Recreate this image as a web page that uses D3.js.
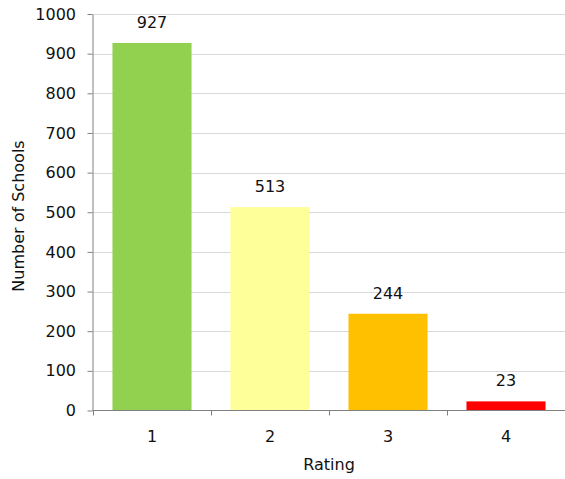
<!DOCTYPE html>
<html>
<head>
<meta charset="utf-8">
<script src="https://cdn.jsdelivr.net/npm/d3@7"></script>
<style>
  body { margin: 0; background: #fff; }
  svg text { font-family: "DejaVu Sans", "Liberation Sans", sans-serif; fill: #111; }
</style>
</head>
<body>
<div id="chart"></div>
<script>
// Schools per rating
var ratings = ['1', '2', '3', '4'];
var schoolCounts = [927, 513, 244, 23];
var barColors = ['#92d050', '#ffff99', '#ffc000', '#ff0000'];
var yTicks = [0, 100, 200, 300, 400, 500, 600, 700, 800, 900, 1000];

var width = 565, height = 479;
var plotLeft = 93, plotRight = 565, plotTop = 14, plotBottom = 410.5;

var svg = d3.select('#chart').append('svg')
    .attr('width', width)
    .attr('height', height);

var x = d3.scaleBand()
    .domain(ratings)
    .range([plotLeft, plotRight])
    .paddingInner(0.33)
    .paddingOuter(0.165);

var y = d3.scaleLinear()
    .domain([0, 1000])
    .range([plotBottom, plotTop]);

// gridlines
svg.append('g')
    .selectAll('line')
    .data(yTicks.filter(function(d) { return d > 0; }))
    .enter()
    .append('line')
    .attr('x1', plotLeft)
    .attr('x2', plotRight)
    .attr('y1', function(d) { return Math.round(y(d)) + 0.5; })
    .attr('y2', function(d) { return Math.round(y(d)) + 0.5; })
    .attr('stroke', '#d9d9d9')
    .attr('stroke-width', 1);

// bars
svg.append('g')
    .selectAll('rect')
    .data(schoolCounts)
    .enter()
    .append('rect')
    .attr('x', function(d, i) { return x(ratings[i]); })
    .attr('width', x.bandwidth())
    .attr('y', function(d) { return y(d); })
    .attr('height', function(d) { return plotBottom - y(d); })
    .attr('fill', function(d, i) { return barColors[i]; });

// value labels
svg.append('g')
    .selectAll('text')
    .data(schoolCounts)
    .enter()
    .append('text')
    .attr('x', function(d, i) { return x(ratings[i]) + x.bandwidth() / 2; })
    .attr('y', function(d) { return y(d) - 15; })
    .attr('text-anchor', 'middle')
    .attr('font-size', '16px')
    .text(function(d) { return d; });

// y axis
var yAxis = d3.axisLeft(y)
    .tickValues(yTicks)
    .tickFormat(d3.format('d'))
    .tickSize(5)
    .tickSizeOuter(0)
    .tickPadding(11.5);

var gy = svg.append('g')
    .attr('transform', 'translate(92.5,0)')
    .call(yAxis);
gy.selectAll('path, line').attr('stroke', '#808080');
gy.selectAll('text').attr('font-size', '16px').attr('fill', '#111');

// x axis: ticks at category boundaries
var gx = svg.append('g')
    .attr('transform', 'translate(0,' + plotBottom + ')');
gx.append('line')
    .attr('x1', 92.5)
    .attr('x2', plotRight)
    .attr('stroke', '#808080');
var step = x.step();
gx.selectAll('.xtick')
    .data(ratings)
    .enter()
    .append('line')
    .attr('class', 'xtick')
    .attr('x1', function(d, i) { return Math.round(plotLeft + i * step) + 0.5; })
    .attr('x2', function(d, i) { return Math.round(plotLeft + i * step) + 0.5; })
    .attr('y1', 0)
    .attr('y2', 5)
    .attr('stroke', '#808080');
gx.selectAll('.xlabel')
    .data(ratings)
    .enter()
    .append('text')
    .attr('class', 'xlabel')
    .attr('x', function(d) { return x(d) + x.bandwidth() / 2; })
    .attr('y', 31)
    .attr('text-anchor', 'middle')
    .attr('font-size', '16px')
    .text(function(d) { return d; });

// axis titles
svg.append('text')
    .attr('x', 329)
    .attr('y', 470)
    .attr('text-anchor', 'middle')
    .attr('font-size', '16px')
    .text('Rating');

svg.append('text')
    .attr('transform', 'translate(24,216) rotate(-90)')
    .attr('text-anchor', 'middle')
    .attr('font-size', '16px')
    .text('Number of Schools');
</script>
</body>
</html>
